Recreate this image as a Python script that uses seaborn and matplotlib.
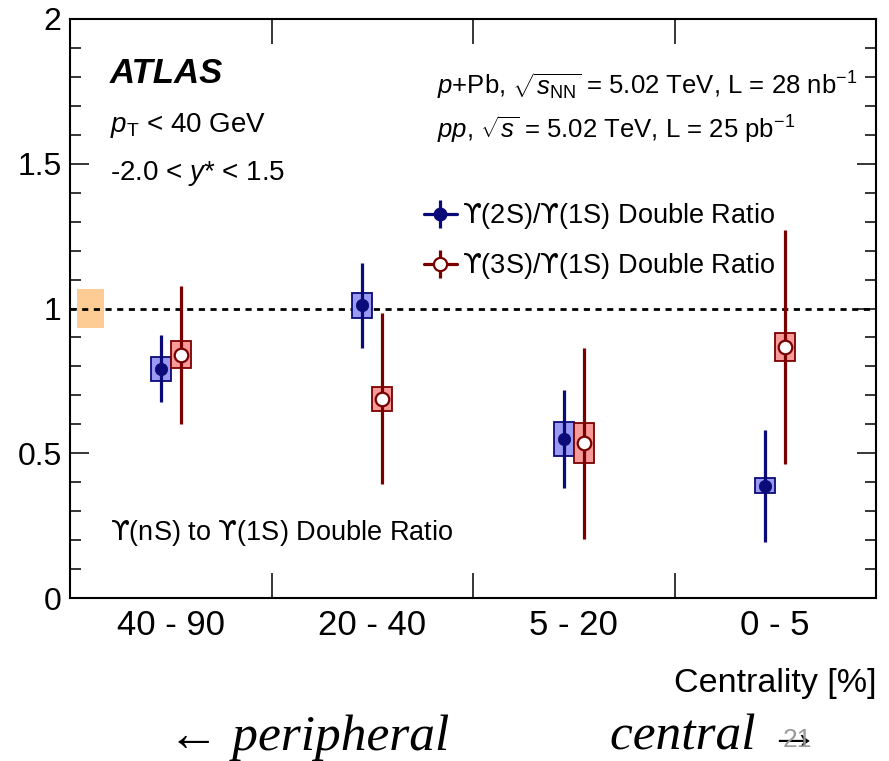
import numpy as np
import pandas as pd
import matplotlib
matplotlib.use("Agg")
import matplotlib.pyplot as plt
from matplotlib.lines import Line2D
from matplotlib.legend_handler import HandlerTuple
from matplotlib.ticker import MultipleLocator
import seaborn as sns

# ---------------- data ----------------
categories = ["40 - 90", "20 - 40", "5 - 20", "0 - 5"]
ratio_2s = [0.792, 1.011, 0.549, 0.388]
stat_2s = [0.116, 0.147, 0.170, 0.194]
syst_2s = [0.042, 0.044, 0.060, 0.027]
ratio_3s = [0.840, 0.688, 0.534, 0.868]
stat_3s = [0.238, 0.295, 0.331, 0.404]
syst_3s = [0.047, 0.041, 0.069, 0.048]
global_unc = 0.066
UPS = r"$\mathsf{ϒ}$"
series_labels = [UPS + "(2S)/" + UPS + "(1S) Double Ratio",
                 UPS + "(3S)/" + UPS + "(1S) Double Ratio"]
yticks = [0, 0.5, 1, 1.5, 2]
ytick_labels = ["0", "0.5", "1", "1.5", "2"]

# ---------------- style ----------------
sns.set_theme(style="ticks")
plt.rcParams["font.family"] = ["Liberation Sans", "DejaVu Sans"]
plt.rcParams["mathtext.fontset"] = "custom"
plt.rcParams["mathtext.rm"] = "Liberation Sans"
plt.rcParams["mathtext.it"] = "Liberation Sans:italic"
plt.rcParams["mathtext.bf"] = "Liberation Sans:bold"
plt.rcParams["mathtext.sf"] = "DejaVu Sans"
for k in ["text.color", "axes.labelcolor", "xtick.color", "ytick.color", "axes.edgecolor"]:
    plt.rcParams[k] = "black"

c2, f2 = "#0a0a78", "#9a9af2"
c3, f3 = "#7a0000", "#f79a9a"

idx = np.arange(len(categories))
df = pd.concat([
    pd.DataFrame({"cat": categories, "x": idx + 0.5 - 0.05, "val": ratio_2s,
                  "stat": stat_2s, "syst": syst_2s, "series": "2S"}),
    pd.DataFrame({"cat": categories, "x": idx + 0.5 + 0.05, "val": ratio_3s,
                  "stat": stat_3s, "syst": syst_3s, "series": "3S"}),
], ignore_index=True)
d2 = df[df.series == "2S"]
d3 = df[df.series == "3S"]

fig = plt.figure(figsize=(8.89, 7.61), dpi=100)
ax = fig.add_axes([70 / 889, 1 - 598 / 761, 806 / 889, 579 / 761])

# global uncertainty band
ax.bar([0.035], [2 * global_unc], bottom=[1 - global_unc], width=0.135, align="edge",
       color="#fdcb94", edgecolor="none", zorder=1)
ax.axhline(1.0, color="black", lw=2.0, dashes=(2.2, 2.0), zorder=1.5)

# systematic boxes + statistical bars
for d, fc, ec in [(d2, f2, c2), (d3, f3, c3)]:
    ax.bar(d.x, 2 * d.syst, bottom=d.val - d.syst, width=0.1, color=fc,
           edgecolor=ec, linewidth=1.3, zorder=2)
    ax.errorbar(d.x, d.val, yerr=d.stat, fmt="none", ecolor=ec, elinewidth=2.3,
                capsize=0, zorder=3)

sns.scatterplot(data=d2, x="x", y="val", ax=ax, color=c2, edgecolor=c2, s=80,
                linewidth=0.5, legend=False, zorder=4)
sns.scatterplot(data=d3, x="x", y="val", ax=ax, color="white", edgecolor=c3, s=95,
                linewidth=1.6, legend=False, zorder=4)

# axes
ax.set_xlim(0, 4)
ax.set_ylim(0, 2)
ax.set_xlabel("")
ax.set_ylabel("")
ax.set_xticks(idx + 0.5)
ax.set_xticklabels(categories, fontsize=25)
ax.set_xticks([1, 2, 3], minor=True)
ax.tick_params(axis="x", which="major", length=0, pad=8)
ax.tick_params(axis="x", which="minor", direction="in", length=18, width=1.1,
               top=True, bottom=True)
ax.set_yticks(yticks)
ax.set_yticklabels(ytick_labels, fontsize=23)
ax.yaxis.set_minor_locator(MultipleLocator(0.1))
ax.tick_params(axis="y", which="major", direction="in", length=14, width=1.1,
               left=True, right=True, pad=6)
ax.tick_params(axis="y", which="minor", direction="in", length=8, width=1.1,
               left=True, right=True)
for s in ax.spines.values():
    s.set_visible(True)
    s.set_linewidth(1.5)
    s.set_color("black")

# texts
ax.text(0.0496, 0.889, "ATLAS", transform=ax.transAxes, fontsize=25,
        fontweight="bold", style="italic", va="baseline")
ax.text(0.0496, 0.805, r"$p_{\mathrm{T}}$ < 40 GeV", transform=ax.transAxes,
        fontsize=20, va="baseline")
ax.text(0.0496, 0.722, r"-2.0 < $y$* < 1.5", transform=ax.transAxes,
        fontsize=20, va="baseline")
ax.text(0.455, 0.869, r"$p$+Pb, $\sqrt{s_{\mathrm{NN}}}$ = 5.02 TeV, L = 28 nb$^{\mathrm{-1}}$",
        transform=ax.transAxes, fontsize=18.5, va="baseline")
ax.text(0.455, 0.794, r"$pp$, $\sqrt{s}$ = 5.02 TeV, L = 25 pb$^{\mathrm{-1}}$",
        transform=ax.transAxes, fontsize=18.5, va="baseline")
ax.text(0.0496, 0.100, UPS + "(nS) to " + UPS + "(1S) Double Ratio",
        transform=ax.transAxes, fontsize=19.5, va="baseline")

# legend
h2 = (Line2D([], [], color=c2, lw=2.3, marker="|", ms=20, mew=2.3),
      Line2D([], [], color=c2, lw=0, marker="o", ms=9, mfc=c2, mec=c2))
h3 = (Line2D([], [], color=c3, lw=2.3, marker="|", ms=20, mew=2.3),
      Line2D([], [], color=c3, lw=0, marker="o", ms=9.5, mfc="white", mec=c3, mew=1.6))
ax.legend([h2, h3], series_labels, handler_map={tuple: HandlerTuple(ndivide=1)},
          loc="upper left", bbox_to_anchor=(424 / 889, 1 - 201 / 761),
          bbox_transform=fig.transFigure, frameon=False, fontsize=19.5,
          handlelength=1.2, handletextpad=0.2, borderpad=0, borderaxespad=0,
          labelspacing=0.75)

fig.text(876 / 889, 1 - 692 / 761, "Centrality [%]", fontsize=24.5, ha="right",
         va="baseline")
fig.text(168 / 889, 1 - 750 / 761, "← peripheral", fontsize=37, style="italic",
         family=["Liberation Serif", "DejaVu Serif"], va="baseline")
fig.text(610 / 889, 1 - 750 / 761, "central →", fontsize=37, style="italic",
         family=["Liberation Serif", "DejaVu Serif"], va="baseline")
fig.text(797 / 889, 1 - 740 / 761, "21", fontsize=19, color="#9a9a9a",
         ha="center", va="center")

fig.savefig("out.png", dpi=100)
